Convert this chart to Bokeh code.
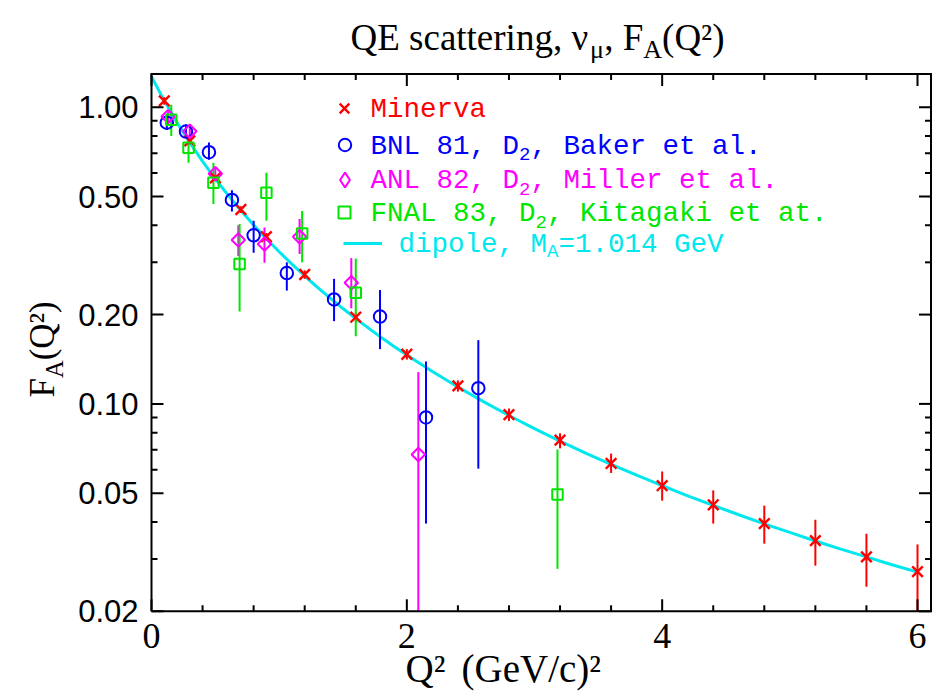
import math
import numpy as np
from bokeh.plotting import figure
from bokeh.models import Range1d, Label, Legend, LegendItem
from bokeh.embed import file_html
from bokeh.resources import INLINE

# ---------------- data ----------------
minerva_x = [0.1, 0.3, 0.5, 0.7, 0.9, 1.2, 1.6, 2.0, 2.4, 2.8, 3.2, 3.6, 4.0, 4.4, 4.8, 5.2, 5.6, 6.0]
minerva_y = [1.05, 0.77, 0.578, 0.452, 0.366, 0.273, 0.196, 0.147, 0.115, 0.092, 0.0755, 0.063, 0.053,
             0.0457, 0.0395, 0.0346, 0.0305, 0.0272]
minerva_hi = [1.08, 0.79, 0.593, 0.464, 0.377, 0.282, 0.203, 0.153, 0.120, 0.0965, 0.0796, 0.068, 0.0592,
              0.0511, 0.0454, 0.0407, 0.0365, 0.0336]
minerva_lo = [1.02, 0.75, 0.563, 0.44, 0.355, 0.264, 0.189, 0.141, 0.110, 0.0875, 0.0708, 0.0585, 0.0472,
              0.0395, 0.0338, 0.0285, 0.0242, 0.0185]

bnl_x = [0.12, 0.27, 0.45, 0.63, 0.80, 1.06, 1.43, 1.79, 2.15, 2.56]
bnl_y = [0.887, 0.828, 0.705, 0.487, 0.370, 0.276, 0.225, 0.197, 0.090, 0.113]
bnl_hi = [0.93, 0.874, 0.76, 0.525, 0.414, 0.30, 0.264, 0.242, 0.139, 0.164]
bnl_lo = [0.84, 0.79, 0.665, 0.445, 0.323, 0.241, 0.19, 0.153, 0.0395, 0.0605]

anl_x = [0.13, 0.30, 0.50, 0.68, 0.885, 1.16, 1.565, 2.09]
anl_y = [0.93, 0.83, 0.597, 0.357, 0.346, 0.366, 0.256, 0.0675]
anl_hi = [0.97, 0.86, 0.63, 0.40, 0.393, 0.42, 0.31, 0.128]
anl_lo = [0.89, 0.80, 0.565, 0.315, 0.299, 0.32, 0.21, 0.015]

fnal_x = [0.155, 0.29, 0.485, 0.69, 0.90, 1.18, 1.60, 3.18]
fnal_y = [0.908, 0.73, 0.556, 0.296, 0.515, 0.375, 0.237, 0.0495]
fnal_hi = [1.02, 0.79, 0.65, 0.404, 0.601, 0.447, 0.309, 0.0702]
fnal_lo = [0.80, 0.65, 0.472, 0.205, 0.414, 0.30, 0.169, 0.0278]

dipole_x = [0.0, 0.1, 0.2, 0.3, 0.4, 0.5, 0.6, 0.7, 0.8, 0.9, 1.0, 1.1, 1.2, 1.3, 1.4, 1.5, 1.6, 1.7,
            1.8, 1.9, 2.0, 2.2, 2.4, 2.6, 2.8, 3.0, 3.2, 3.4, 3.6, 3.8, 4.0, 4.2, 4.4, 4.6, 4.8, 5.0,
            5.2, 5.4, 5.6, 5.8, 6.0]
dipole_y = [1.267, 1.0524, 0.8880, 0.7593, 0.6567, 0.5736, 0.5053, 0.4485, 0.4008, 0.3603, 0.3256,
            0.2957, 0.2698, 0.2471, 0.2272, 0.2096, 0.1939, 0.1800, 0.1675, 0.1562, 0.1461, 0.1285,
            0.1140, 0.1018, 0.0914, 0.0825, 0.0749, 0.0683, 0.0625, 0.0575, 0.0530, 0.0490, 0.0455,
            0.0423, 0.0394, 0.0369, 0.0345, 0.0324, 0.0305, 0.0287, 0.0271]

x_major = [0, 2, 4, 6]
x_labels = ["0", "2", "4", "6"]
x_minor = [0.4, 0.8, 1.2, 1.6, 2.4, 2.8, 3.2, 3.6, 4.4, 4.8, 5.2, 5.6]
y_major = [0.02, 0.05, 0.1, 0.2, 0.5, 1.0]
y_labels = ["0.02", "0.05", "0.10", "0.20", "0.50", "1.00"]
y_minor = [0.03, 0.04, 0.06, 0.07, 0.08, 0.09, 0.3, 0.4, 0.6, 0.7, 0.8, 0.9]

RED, BLUE, MAGENTA, GREEN, CYAN = "#ff0000", "#0000ff", "#ff00ff", "#00e600", "#00e8ee"

# ---------------- geometry (pixels) ----------------
W, H = 932, 693
X0_PX = 151.0        # pixel column of Q^2 = 0
XPX = 127.667        # pixels per unit of Q^2
Y1_PX = 106.7        # pixel row of F_A = 1
YPX = 296.7          # pixels per decade
BOX_R_PX, BOX_T_PX = 930.5, 73.5

XMIN = 0.0
XMAX = (BOX_R_PX - X0_PX) / XPX
YMIN = 0.02
YMAX = 10 ** ((Y1_PX - BOX_T_PX) / YPX)

# the frame covers the whole canvas; the plot box is drawn inside it
p = figure(width=W, height=H, title=None,
           x_range=Range1d(-X0_PX / XPX, (W - X0_PX) / XPX),
           y_range=Range1d(10 ** ((Y1_PX - H) / YPX), 10 ** (Y1_PX / YPX)),
           y_axis_type="log", x_axis_location=None, y_axis_location=None,
           output_backend="svg", toolbar_location=None, min_border=0)
for g in p.grid:
    g.visible = False
p.outline_line_color = None
p.background_fill_color = "white"
p.border_fill_color = "white"


def clip_lo(vals):
    return [max(v, YMIN) for v in vals]


# ---------------- marks ----------------
curve = p.line(dipole_x, dipole_y, line_color=CYAN, line_width=3)

p.segment(x0=minerva_x, y0=clip_lo(minerva_lo), x1=minerva_x, y1=minerva_hi, line_color=RED, line_width=2)
p.segment(x0=bnl_x, y0=clip_lo(bnl_lo), x1=bnl_x, y1=bnl_hi, line_color=BLUE, line_width=2)
p.segment(x0=anl_x, y0=clip_lo(anl_lo), x1=anl_x, y1=anl_hi, line_color=MAGENTA, line_width=2)
p.segment(x0=fnal_x, y0=clip_lo(fnal_lo), x1=fnal_x, y1=fnal_hi, line_color=GREEN, line_width=2)

r_min = p.scatter(minerva_x, minerva_y, marker="x", size=15, line_color=RED, line_width=2.4)
r_bnl = p.scatter(bnl_x, bnl_y, marker="circle", size=12.5, fill_color=None,
                  line_color=BLUE, line_width=2)
p.scatter(anl_x, anl_y, marker="square", angle=math.pi / 4, size=9.5, fill_color=None,
          line_color=MAGENTA, line_width=2)
# key-only glyph for the ANL row (no visible point in the plot)
r_anl_key = p.scatter(np.array([np.nan]), np.array([np.nan]), marker="diamond", fill_color=None,
                      line_color=MAGENTA, line_width=2)
r_fnal = p.scatter(fnal_x, fnal_y, marker="square", size=10.5, fill_color=None,
                   line_color=GREEN, line_width=2)

# ---------------- plot box and ticks ----------------
p.line([XMIN, XMAX, XMAX, XMIN, XMIN], [YMIN, YMIN, YMAX, YMAX, YMIN],
       line_color="black", line_width=2, line_join="miter")


def x_ticks(vals, length):
    f = 10 ** (length / YPX)
    p.segment(x0=vals, y0=[YMIN] * len(vals), x1=vals, y1=[YMIN * f] * len(vals),
              line_color="black", line_width=2)
    p.segment(x0=vals, y0=[YMAX] * len(vals), x1=vals, y1=[YMAX / f] * len(vals),
              line_color="black", line_width=2)


def y_ticks(vals, length):
    d = length / XPX
    p.segment(x0=[XMIN] * len(vals), y0=vals, x1=[XMIN + d] * len(vals), y1=vals,
              line_color="black", line_width=2)
    p.segment(x0=[XMAX] * len(vals), y0=vals, x1=[XMAX - d] * len(vals), y1=vals,
              line_color="black", line_width=2)


x_ticks(x_major, 12)
x_ticks(x_minor, 6)
y_ticks(y_major, 12)
y_ticks(y_minor, 6)


# ---------------- key glyphs (one small legend per row) ----------------
def key(renderer, cx, cy, gw, gh):
    leg = Legend(items=[LegendItem(label=" ", renderers=[renderer])],
                 location=(cx - gw / 2, H - (cy + gh / 2)),
                 glyph_width=int(gw), glyph_height=int(gh), label_standoff=0, label_width=0,
                 label_height=0, label_text_font_size="1px", padding=0, margin=0, spacing=0,
                 border_line_color=None, background_fill_color=None, background_fill_alpha=0)
    p.add_layout(leg)


key(r_min, 344, 108, 34, 34)
key(r_bnl, 344, 144, 31, 31)
key(r_anl_key, 344, 179, 37, 37)
key(r_fnal, 344, 212, 30, 30)
key(curve, 362.5, 243, 39, 20)


# ---------------- texts (Y is the vertical middle of the text) ----------------
def add_label(text, X, Y, size, font, color="black", angle=0.0, align="left"):
    p.add_layout(Label(x=X, y=H - Y, x_units="screen", y_units="screen",
                       text=text, text_font=font, text_font_size=f"{size}px", text_color=color,
                       angle=angle, text_align=align, text_baseline="middle"))


# tick labels
for v, t in zip(x_major, x_labels):
    p.add_layout(Label(x=v, y=H - 635, x_units="data", y_units="screen", text=t,
                       text_font="Liberation Serif", text_font_size="36px", text_color="black",
                       text_align="center", text_baseline="middle"))
for v, t in zip(y_major, y_labels):
    p.add_layout(Label(x=138, y=v, x_units="screen", y_units="data", text=t,
                       text_font="Liberation Sans", text_font_size="31px", text_color="black",
                       text_align="right", text_baseline="middle"))

SERIF_W = {'Q': .722, 'E': .611, ' ': .25, 's': .389, 'c': .444, 'a': .444, 't': .278, 'e': .444,
           'r': .333, 'i': .278, 'n': .5, 'g': .5, ',': .25, 'ν': .5, 'μ': .55, 'F': .556, 'A': .722,
           '(': .333, ')': .333, '²': .3, 'G': .722, 'V': .722, '/': .278}


def serif_w(s, size):
    return sum(SERIF_W[c] for c in s) * size


# title
S, SUB = 37, 26
X = 350
for txt, sz, dy in [("QE scattering, ν", S, 0), ("μ", SUB, 12), (", F", S, 0), ("A", SUB, 12), ("(Q²)", S, 0)]:
    add_label(txt, X, 37 + dy, sz, "Liberation Serif")
    X += serif_w(txt, sz)

# x axis title
add_label("Q²", 405, 668, 39, "Liberation Serif")
add_label("(GeV/c)²", 461, 668, 39, "Liberation Serif")

# y axis title (rotated)
S = 35
Y = 397
for txt, sz, dx in [("F", S, 0), ("A", 24.5, 12), ("(Q²)", S, 0)]:
    add_label(txt, 42 + dx, Y, sz, "Liberation Serif", angle=math.pi / 2)
    Y -= serif_w(txt, sz)

# key texts
MONO = "Liberation Mono"
LS, SS, SD = 27.5, 19, 8
rows = [
    (RED, 370, 109, [("Minerva", False)]),
    (BLUE, 370, 145.5, [("BNL 81, D", False), ("2", True), (", Baker et al.", False)]),
    (MAGENTA, 370, 180, [("ANL 82, D", False), ("2", True), (", Miller et al.", False)]),
    (GREEN, 370, 213, [("FNAL 83, D", False), ("2", True), (", Kitagaki et at.", False)]),
    (CYAN, 398, 243.5, [("dipole, M", False), ("A", True), ("=1.014 GeV", False)]),
]
for color, X, Y, parts in rows:
    for txt, sub in parts:
        sz = SS if sub else LS
        add_label(txt, X, Y + (SD if sub else 0), sz, MONO, color)
        X += 0.6 * sz * len(txt)

open("out.html", "w").write(file_html(p, INLINE))
